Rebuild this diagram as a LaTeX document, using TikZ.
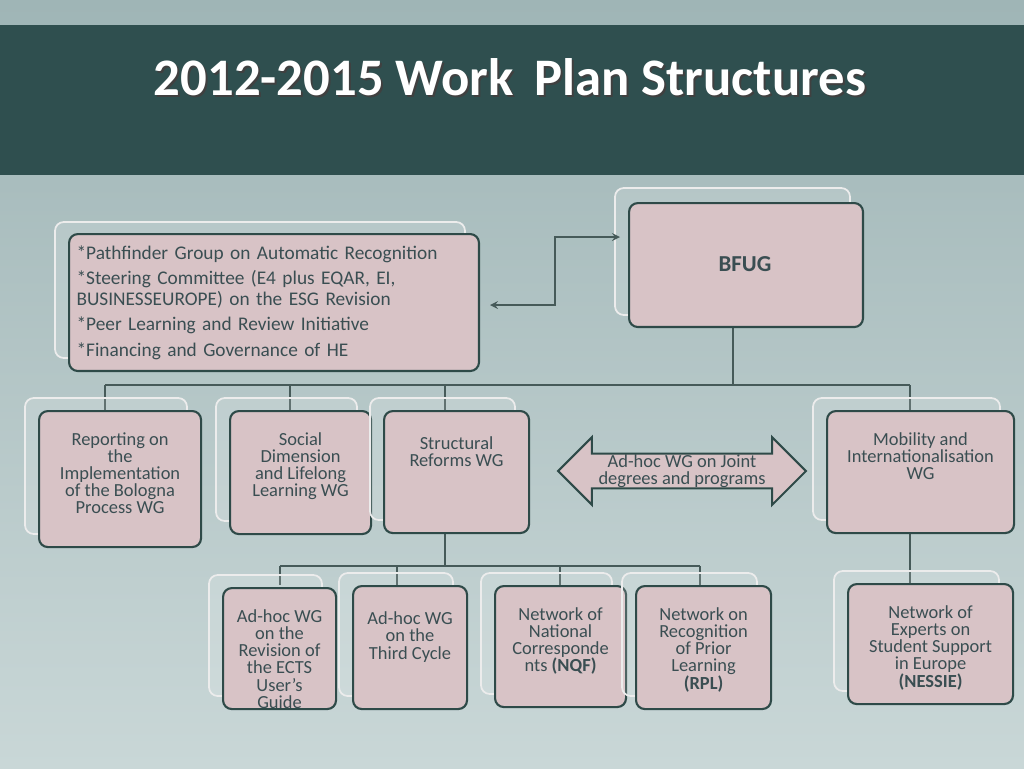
\documentclass[tikz,border=0pt]{standalone}
\usepackage{fontspec}
\setmainfont{Carlito}
\usetikzlibrary{shapes.arrows,calc}
\definecolor{bar}{HTML}{2F4F4F}
\definecolor{bgtop}{HTML}{9FB5B6}
\definecolor{bgbot}{HTML}{C9D7D7}
\definecolor{boxfill}{HTML}{D8C3C6}
\definecolor{edge}{HTML}{2E4A48}
\definecolor{txt}{HTML}{3A4E52}
\tikzset{
  wg/.style={draw=edge, line width=1.2pt, fill=boxfill, rounded corners=5pt, align=center, text=txt, inner sep=2pt, font=\fontsize{10.5}{9.8}\selectfont},
  ghost/.style={draw=white!85!gray, line width=1pt, fill=white, fill opacity=0.15, rounded corners=5pt},
  link/.style={draw=edge!70!gray, line width=1pt}
}
\newcommand{\wgbox}[6]{% name, x1, y1, x2, y2, text
  \draw[ghost] (#2-13,#3-12) rectangle (#4-13,#5-12);
  \node[wg, minimum width={(#4-#2)*0.02cm}, minimum height={(#5-#3)*0.02cm}, anchor=north west] (#1) at (#2,#3) {};
  \node[text=txt, align=center, anchor=north, inner sep=0pt, font=\fontsize{10.5}{9.8}\selectfont] at ($(#1.north)+(0,22)$) {#6};
}
\begin{document}
\begin{tikzpicture}[x=0.02cm, y=-0.02cm]
\shade[top color=bgtop, bottom color=bgbot] (0,0) rectangle (1024,768);
\useasboundingbox (0,0) rectangle (1024,768);
\fill[bar] (0,25) rectangle (1024,175);
\node[text=black!75, font=\bfseries\fontsize{30}{30}\selectfont] at (512,79) {2012-2015 Work\, Plan Structures};
\node[text=white, font=\bfseries\fontsize{30}{30}\selectfont] (title) at (510,77) {2012-2015 Work\, Plan Structures};

% connectors
\coordinate (top) at (733,385);
\coordinate (mid) at (445,566);
\draw[link] (733,326) -- (top);
\draw[link] (105,385) -- (910,385);
\foreach \xx in {105,290,445,910} \draw[link] (\xx,385) -- (\xx,410);
\draw[link] (445,532) -- (mid);
\draw[link] (280,566) -- (700,566);
\foreach \xx in {280,397,560,700} \draw[link] (\xx,566) -- (\xx,585);
\draw[link] (910,532) -- (910,583);

% boxes
\draw[ghost] (55,222) rectangle (465,358);
\node[wg, minimum width=8.2cm, minimum height=2.74cm, anchor=north west, align=left, text width=7.9cm, font=\fontsize{11}{11.5}\selectfont] (groups) at (68,233)
  {*Pathfinder Group on Automatic Recognition\\[3pt] *Steering Committee (E4 plus EQAR, EI,\\ BUSINESSEUROPE) on the ESG Revision\\[3pt] *Peer Learning and Review Initiative\\[3pt] *Financing and Governance of HE};
\draw[ghost] (615,188) rectangle (850,315);
\node[wg, minimum width=4.68cm, minimum height=2.48cm, anchor=north west] (bfug) at (628,202) {};
\node[text=txt, font=\bfseries\fontsize{13}{13}\selectfont] at (745,264) {BFUG};
\wgbox{report}{38}{410}{200}{546}{Reporting on\\ the\\ Implementation\\ of the Bologna\\ Process WG}
\wgbox{social}{229}{410}{370}{533}{Social\\ Dimension\\ and Lifelong\\ Learning WG}
\wgbox{struct}{383}{410}{528}{532}{\\ Structural\\ Reforms WG}
\wgbox{mobil}{826}{410}{1013}{532}{Mobility and\\ Internationalisation\\ WG}
\wgbox{ects}{222}{587}{335}{708}{Ad-hoc WG\\ on the\\ Revision of\\ the ECTS\\ User's\\ Guide}
\wgbox{third}{352}{585}{466}{708}{\\ Ad-hoc WG\\ on the\\ Third Cycle}
\wgbox{nqf}{494}{585}{625}{706}{Network of\\ National\\ Corresponde\\ nts \textbf{(NQF)}}
\wgbox{rpl}{635}{585}{770}{708}{Network on\\ Recognition\\ of Prior\\ Learning\\ \textbf{(RPL)}}
\wgbox{nessie}{847}{583}{1012}{703}{Network of\\ Experts on\\ Student Support\\ in Europe\\ \textbf{(NESSIE)}}

% joint degrees arrow
\node[double arrow, draw=edge, line width=1.2pt, fill=boxfill, minimum width=1.0cm, minimum height=4.96cm, double arrow head extend=0.33cm, inner sep=0pt, text=txt, align=center, font=\fontsize{10.5}{9.5}\selectfont] (joint) at (682,471) {Ad-hoc WG on Joint\\ degrees and programs};

% link groups -- bfug
\draw[link, <->, >=stealth] (490,305) -- (555,305) |- (620,237);
\end{tikzpicture}
\end{document}
